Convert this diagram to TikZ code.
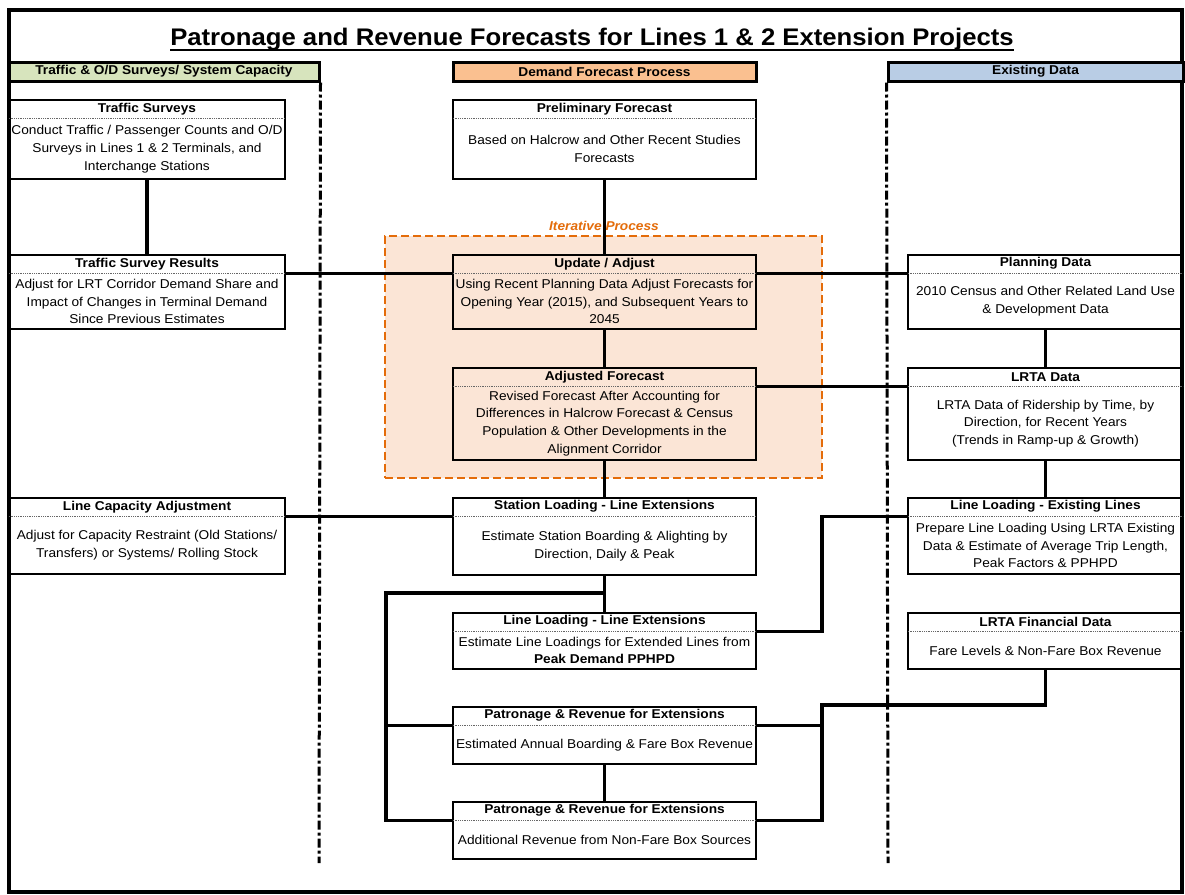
\documentclass[tikz,border=0pt]{standalone}
\usepackage{fontspec}
\setmainfont{Liberation Sans}[FakeStretch=1.07]
\usepackage{xcolor}
\usepackage{tikz}
\usetikzlibrary{calc}

\definecolor{hdgreen}{HTML}{D7E4BD}
\definecolor{hdorange}{HTML}{FAC090}
\definecolor{hdblue}{HTML}{B9CDE5}
\definecolor{iterfill}{HTML}{FBE5D6}
\definecolor{iterline}{HTML}{E46C0A}

\begin{document}
\fontsize{12.8}{17.7}\selectfont
\begin{tikzpicture}[x=1pt,y=-1pt,
  box/.style={draw,line width=1.6pt,inner sep=0pt,anchor=north},
  hd/.style={inner sep=0pt,anchor=north,minimum height=19pt,font=\bfseries},
  bd/.style={inner sep=0pt,align=center},
  wl/.style={minimum width=276pt},
  wc/.style={minimum width=303pt},
  wr/.style={minimum width=275pt},
  colhd/.style={draw,line width=3pt,inner sep=0pt,minimum height=19pt,font=\bfseries},
  sep/.style={densely dotted,line width=0.8pt,black!60},
  ln/.style={line width=3.2pt},
  dv/.style={line width=3pt,dash pattern=on 9pt off 3pt on 3pt off 3pt}]
\fill[white] (0,0) rectangle (1185,894);
\useasboundingbox (0,0) rectangle (1185,894);
\draw[line width=3.2pt] (9,10) rectangle (1182,892);

% title and column heads
\node[anchor=base,inner sep=0pt,font=\fontsize{24}{28}\selectfont\bfseries] (title) at (592,45)
  {Patronage and Revenue Forecasts for Lines 1 \& 2 Extension Projects};
\draw[line width=2.8pt] ([yshift=-5pt]title.base west) -- ([yshift=-5pt]title.base east);
\node[colhd,fill=hdgreen,minimum width=310pt]  (cl) at (164,71.5)    {Traffic \& O/D Surveys/ System Capacity};
\node[colhd,fill=hdorange,minimum width=303pt] (cc) at (604.5,71.5)  {Demand Forecast Process};
\node[colhd,fill=hdblue,minimum width=295pt]   (cr) at (1035.5,71.5) {Existing Data};
\draw[dv] (cl.south east) -- (319,863);
\draw[dv] (cr.south west) -- (888,863);

% iterative process
\node[draw=iterline,fill=iterfill,line width=2.2pt,dash pattern=on 8pt off 4pt,
  minimum width=437pt,minimum height=242pt] (it) at (603.5,357) {};
\node[font=\bfseries\itshape,text=iterline] (itl) at (604,226) {Iterative Process};

% left column
\node[box,wl,minimum height=79pt] (ts) at (147,99) {};
\node[hd,wl] (tsh) at (ts.north) {Traffic Surveys};
\node[bd] (tsb) at ($(tsh.south)!.5!(ts.south)$) {Conduct Traffic / Passenger Counts and O/D\\Surveys in Lines 1 \& 2 Terminals, and\\Interchange Stations};
\node[box,wl,minimum height=74pt] (tsr) at (147,254) {};
\node[hd,wl] (tsrh) at (tsr.north) {Traffic Survey Results};
\node[bd] (tsrb) at ($(tsrh.south)!.5!(tsr.south)$) {Adjust for LRT Corridor Demand Share and\\Impact of Changes in Terminal Demand\\Since Previous Estimates};
\node[box,wl,minimum height=76pt] (lca) at (147,497) {};
\node[hd,wl] (lcah) at (lca.north) {Line Capacity Adjustment};
\node[bd] (lcab) at ($(lcah.south)!.5!(lca.south)$) {Adjust for Capacity Restraint (Old Stations/\\Transfers) or Systems/ Rolling Stock};

% centre column
\node[box,wc,minimum height=79pt] (pf) at (604.5,99) {};
\node[hd,wc] (pfh) at (pf.north) {Preliminary Forecast};
\node[bd] (pfb) at ($(pfh.south)!.5!(pf.south)$) {Based on Halcrow and Other Recent Studies\\Forecasts};
\node[box,wc,minimum height=74pt] (ua) at (604.5,254) {};
\node[hd,wc] (uah) at (ua.north) {Update / Adjust};
\node[bd] (uab) at ($(uah.south)!.5!(ua.south)$) {Using Recent Planning Data Adjust Forecasts for\\Opening Year (2015), and Subsequent Years to\\2045};
\node[box,wc,minimum height=92pt] (af) at (604.5,367) {};
\node[hd,wc] (afh) at (af.north) {Adjusted Forecast};
\node[bd] (afb) at ($(afh.south)!.5!(af.south)$) {Revised Forecast After Accounting for\\Differences in Halcrow Forecast \& Census\\Population \& Other Developments in the\\Alignment Corridor};
\node[box,wc,minimum height=77pt] (sl) at (604.5,497) {};
\node[hd,wc] (slh) at (sl.north) {Station Loading - Line Extensions};
\node[bd] (slb) at ($(slh.south)!.5!(sl.south)$) {Estimate Station Boarding \& Alighting by\\Direction, Daily \& Peak};
\node[box,wc,minimum height=56pt] (lle) at (604.5,612) {};
\node[hd,wc] (lleh) at (lle.north) {Line Loading - Line Extensions};
\node[bd] (lleb) at ($(lleh.south)!.5!(lle.south)$) {Estimate Line Loadings for Extended Lines from\\\textbf{Peak Demand PPHPD}};
\node[box,wc,minimum height=57pt] (pa) at (604.5,706) {};
\node[hd,wc] (pah) at (pa.north) {Patronage \& Revenue for Extensions};
\node[bd] (pab) at ($(pah.south)!.5!(pa.south)$) {Estimated Annual Boarding \& Fare Box Revenue};
\node[box,wc,minimum height=57pt] (pb) at (604.5,801) {};
\node[hd,wc] (pbh) at (pb.north) {Patronage \& Revenue for Extensions};
\node[bd] (pbb) at ($(pbh.south)!.5!(pb.south)$) {Additional Revenue from Non-Fare Box Sources};

% right column
\node[box,wr,minimum height=74pt] (pd) at (1045.5,254) {};
\node[hd,wr] (pdh) at (pd.north) {Planning Data};
\node[bd] (pdb) at ($(pdh.south)!.5!(pd.south)$) {2010 Census and Other Related Land Use\\\& Development Data};
\node[box,wr,minimum height=92pt] (ld) at (1045.5,367) {};
\node[hd,wr] (ldh) at (ld.north) {LRTA Data};
\node[bd] (ldb) at ($(ldh.south)!.5!(ld.south)$) {LRTA Data of Ridership by Time, by\\Direction, for Recent Years\\(Trends in Ramp-up \& Growth)};
\node[box,wr,minimum height=76pt] (llx) at (1045.5,497) {};
\node[hd,wr] (llxh) at (llx.north) {Line Loading - Existing Lines};
\node[bd] (llxb) at ($(llxh.south)!.5!(llx.south)$) {Prepare Line Loading Using LRTA Existing\\Data \& Estimate of Average Trip Length,\\Peak Factors \& PPHPD};
\node[box,wr,minimum height=56pt] (fd) at (1045.5,612) {};
\node[hd,wr] (fdh) at (fd.north) {LRTA Financial Data};
\node[bd] (fdb) at ($(fdh.south)!.5!(fd.south)$) {Fare Levels \& Non-Fare Box Revenue};

\foreach \b in {ts,tsr,lca,pf,ua,af,sl,lle,pa,pb,pd,ld,llx,fd}
  \draw[sep] (\b h.south west) -- (\b h.south east);

% links
\coordinate (jl) at (386,593);
\coordinate (jr) at (822,705);
\draw[ln] (ts.south) -- (tsr.north);
\draw[ln] (pf.south) -- (ua.north);
\draw[ln] (ua.south) -- (af.north);
\draw[ln] (af.south) -- (sl.north);
\draw[ln] (sl.south) -- (lle.north);
\draw[ln] (pa.south) -- (pb.north);
\draw[ln] (pd.south) -- (ld.north);
\draw[ln] (ld.south) -- (llx.north);
\draw[ln] (tsrh.south east) -- (uah.south west);
\draw[ln] (uah.south east) -- (pdh.south west);
\draw[ln] (afh.south east) -- (ldh.south west);
\draw[ln] (lcah.south east) -- (slh.south west);
\draw[ln] (llxh.south west) -| (jr |- lleh.south east) -- (lleh.south east);
\draw[ln] (fd.south) |- (jr) |- (pbh.south east);
\draw[ln] (jr |- pah.south east) -- (pah.south east);
\draw[ln] (sl.south |- jl) -- (jl) |- (pbh.south west);
\draw[ln] (jl |- pah.south west) -- (pah.south west);
\end{tikzpicture}
\end{document}
